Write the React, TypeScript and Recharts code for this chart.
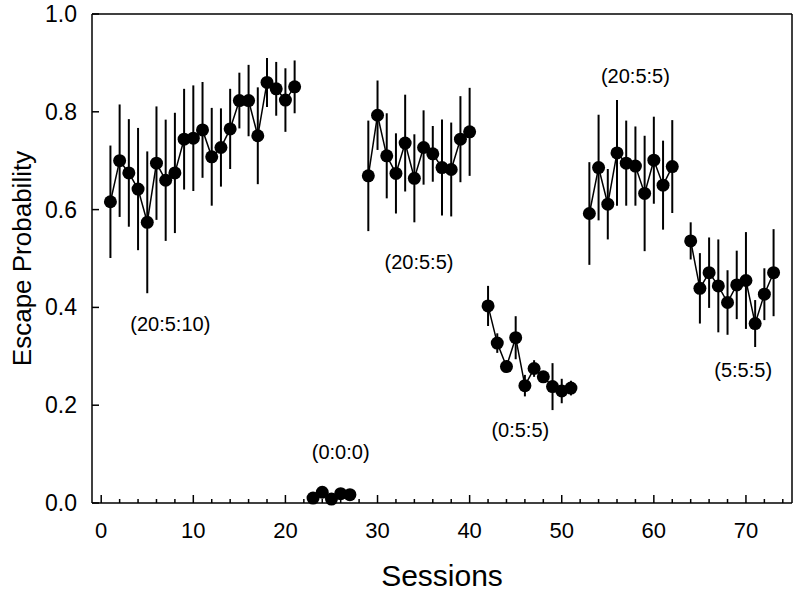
import React from "react";
import {
  ScatterChart,
  Scatter,
  XAxis,
  YAxis,
  ErrorBar,
  ReferenceLine,
  ReferenceDot,
} from "recharts";

// Sessions and escape probabilities per condition block
const SESS_A = [1, 2, 3, 4, 5, 6, 7, 8, 9, 10, 11, 12, 13, 14, 15, 16, 17, 18, 19, 20, 21];
const ESC_A = [0.616, 0.7, 0.675, 0.642, 0.574, 0.695, 0.66, 0.675, 0.744, 0.746, 0.763, 0.708, 0.727, 0.765, 0.823, 0.823, 0.751, 0.86, 0.847, 0.824, 0.851];
const ERR_A = [0.115, 0.115, 0.11, 0.125, 0.145, 0.116, 0.124, 0.123, 0.103, 0.108, 0.098, 0.1, 0.08, 0.082, 0.057, 0.073, 0.099, 0.05, 0.055, 0.065, 0.054];

const SESS_B = [23, 24, 25, 26, 27];
const ESC_B = [0.01, 0.022, 0.008, 0.019, 0.017];
const ERR_B = [0.004, 0.004, 0.004, 0.004, 0.004];

const SESS_C = [29, 30, 31, 32, 33, 34, 35, 36, 37, 38, 39, 40];
const ESC_C = [0.669, 0.793, 0.71, 0.674, 0.736, 0.664, 0.727, 0.714, 0.686, 0.682, 0.744, 0.759];
const ERR_C = [0.113, 0.071, 0.087, 0.082, 0.099, 0.09, 0.076, 0.057, 0.098, 0.096, 0.088, 0.09];

const SESS_D = [42, 43, 44, 45, 46, 47, 48, 49, 50, 51];
const ESC_D = [0.403, 0.327, 0.279, 0.338, 0.24, 0.275, 0.258, 0.238, 0.229, 0.235];
const ERR_D = [0.041, 0.02, 0.012, 0.044, 0.022, 0.017, 0.012, 0.048, 0.025, 0.015];

const SESS_E = [53, 54, 55, 56, 57, 58, 59, 60, 61, 62];
const ESC_E = [0.592, 0.686, 0.611, 0.716, 0.695, 0.689, 0.633, 0.701, 0.65, 0.688];
const ERR_E = [0.105, 0.108, 0.072, 0.108, 0.087, 0.081, 0.118, 0.089, 0.091, 0.095];

const SESS_F = [64, 65, 66, 67, 68, 69, 70, 71, 72, 73];
const ESC_F = [0.536, 0.439, 0.471, 0.444, 0.41, 0.446, 0.455, 0.367, 0.427, 0.471];
const ERR_F = [0.038, 0.072, 0.072, 0.095, 0.066, 0.07, 0.099, 0.048, 0.053, 0.089];

// Condition labels (session, probability, text)
const LABEL_X = [7.5, 26.0, 34.5, 45.5, 58.0, 69.7];
const LABEL_Y = [0.366, 0.105, 0.492, 0.149, 0.874, 0.272];
const LABEL_TEXT = ["(20:5:10)", "(0:0:0)", "(20:5:5)", "(0:5:5)", "(20:5:5)", "(5:5:5)"];

const X_TICKS = [0, 2, 4, 6, 8, 10, 12, 14, 16, 18, 20, 22, 24, 26, 28, 30, 32, 34, 36, 38, 40, 42, 44, 46, 48, 50, 52, 54, 56, 58, 60, 62, 64, 66, 68, 70, 72, 74];
const Y_TICKS = [0, 0.2, 0.4, 0.6, 0.8, 1.0];

const FONT = "'Liberation Sans', Arial, sans-serif";

function block(sess: number[], esc: number[], err: number[]) {
  return sess.map((s, i) => ({ session: s, p: esc[i], err: err[i] }));
}

const BLOCKS = [
  block(SESS_A, ESC_A, ERR_A),
  block(SESS_B, ESC_B, ERR_B),
  block(SESS_C, ESC_C, ERR_C),
  block(SESS_D, ESC_D, ERR_D),
  block(SESS_E, ESC_E, ERR_E),
  block(SESS_F, ESC_F, ERR_F),
];

function XTick(props: any) {
  const { x, y, payload } = props;
  const major = payload.value % 10 === 0;
  return (
    <g>
      <line x1={x} x2={x} y1={y} y2={y - (major ? 8 : 4)} stroke="#000" strokeWidth={1.5} />
      {major && (
        <text x={x} y={y + 35} textAnchor="middle" fontSize={22} fontFamily={FONT} fill="#000">
          {payload.value}
        </text>
      )}
    </g>
  );
}

function YTick(props: any) {
  const { x, y, payload } = props;
  return (
    <g>
      <line x1={x} x2={x + 7} y1={y} y2={y} stroke="#000" strokeWidth={1.5} />
      <text x={x - 15} y={y + 8} textAnchor="end" fontSize={23} fontFamily={FONT} fill="#000">
        {payload.value.toFixed(1)}
      </text>
    </g>
  );
}

const dot = (p: any) => <circle cx={p.cx} cy={p.cy} r={6.5} fill="#000" />;

export default function App() {
  return (
    <div style={{ position: "absolute", left: 0, top: 0, background: "#fff" }}>
      <ScatterChart width={800} height={591} margin={{ top: 14, right: 8, bottom: 0, left: 0 }}>
        <XAxis
          type="number"
          dataKey="session"
          domain={[-1, 75]}
          ticks={X_TICKS}
          interval={0}
          tick={<XTick />}
          tickLine={false}
          tickSize={0}
          tickMargin={0}
          height={88}
          axisLine={{ stroke: "#000", strokeWidth: 1.5 }}
          label={{ value: "Sessions", position: "insideBottom", offset: 5, fontSize: 30, fontFamily: FONT, fill: "#000" }}
        />
        <YAxis
          type="number"
          dataKey="p"
          domain={[0, 1]}
          ticks={Y_TICKS}
          interval={0}
          tick={<YTick />}
          tickLine={false}
          tickSize={0}
          tickMargin={0}
          width={92}
          axisLine={{ stroke: "#000", strokeWidth: 1.5 }}
          label={{ value: "Escape Probability", angle: -90, position: "insideLeft", offset: 22, style: { textAnchor: "middle" }, fontSize: 26, fontFamily: FONT, fill: "#000" }}
        />
        <ReferenceLine y={1} stroke="#000" strokeWidth={1.5} />
        <ReferenceLine x={75} stroke="#000" strokeWidth={1.5} />
        {BLOCKS.map((d, i) => (
          <Scatter
            key={i}
            data={d}
            line={{ stroke: "#000", strokeWidth: 1.5 }}
            shape={dot}
            isAnimationActive={false}
          >
            <ErrorBar dataKey="err" direction="y" width={0} stroke="#000" strokeWidth={2} />
          </Scatter>
        ))}
        {LABEL_TEXT.map((t, i) => (
          <ReferenceDot
            key={t + i}
            x={LABEL_X[i]}
            y={LABEL_Y[i]}
            shape={(p: any) => (
              <text x={p.cx} y={p.cy + 7} textAnchor="middle" fontSize={20} fontFamily={FONT} fill="#000">
                {t}
              </text>
            )}
          />
        ))}
      </ScatterChart>
    </div>
  );
}
